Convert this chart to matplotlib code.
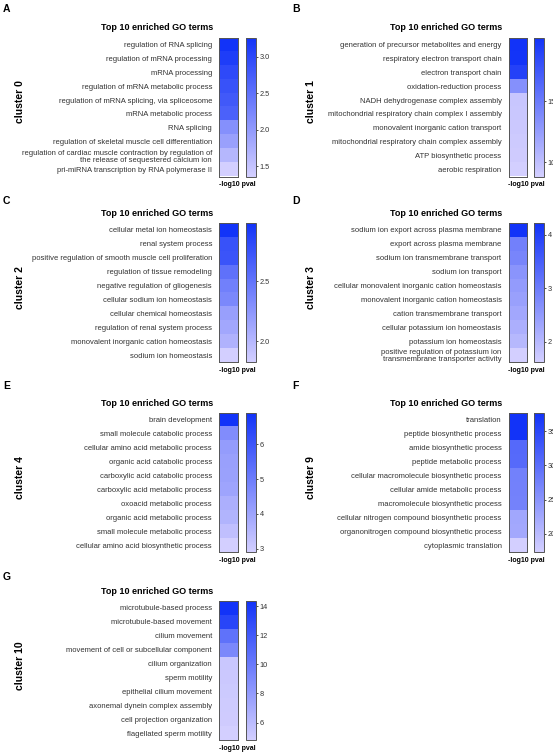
import matplotlib
matplotlib.use("Agg")
import matplotlib.pyplot as plt
import numpy as np
from matplotlib.colors import LinearSegmentedColormap

plt.rcParams['font.family'] = ['Liberation Sans', 'DejaVu Sans']

W, H = 553, 754

clusters = ["cluster 0", "cluster 1", "cluster 2", "cluster 3",
            "cluster 4", "cluster 9", "cluster 10"]
letters = ["A", "B", "C", "D", "E", "F", "G"]

terms_0 = ["regulation of RNA splicing", "regulation of mRNA processing", "mRNA processing",
           "regulation of mRNA metabolic process", "regulation of mRNA splicing, via spliceosome",
           "mRNA metabolic process", "RNA splicing",
           "regulation of skeletal muscle cell differentiation",
           "regulation of cardiac muscle contraction by regulation of\nthe release of sequestered calcium ion",
           "pri-miRNA transcription by RNA polymerase II"]
vals_0 = [3.26, 3.13, 2.98, 2.88, 2.79, 2.69, 2.12, 1.93, 1.65, 1.36]
ticks_0 = [1.5, 2.0, 2.5, 3.0]

terms_1 = ["generation of precursor metabolites and energy", "respiratory electron transport chain",
           "electron transport chain", "oxidation-reduction process",
           "NADH dehydrogenase complex assembly", "mitochondrial respiratory chain complex I assembly",
           "monovalent inorganic cation transport", "mitochondrial respiratory chain complex assembly",
           "ATP biosynthetic process", "aerobic respiration"]
vals_1 = [20.2, 20.1, 19.1, 13.4, 9.5, 9.4, 9.3, 9.2, 9.1, 8.85]
ticks_1 = [10, 15]

terms_2 = ["cellular metal ion homeostasis", "renal system process",
           "positive regulation of smooth muscle cell proliferation",
           "regulation of tissue remodeling", "negative regulation of gliogenesis",
           "cellular sodium ion homeostasis", "cellular chemical homeostasis",
           "regulation of renal system process", "monovalent inorganic cation homeostasis",
           "sodium ion homeostasis"]
vals_2 = [2.98, 2.75, 2.73, 2.52, 2.41, 2.35, 2.18, 2.12, 2.04, 1.83]
ticks_2 = [2.0, 2.5]

terms_3 = ["sodium ion export across plasma membrane", "export across plasma membrane",
           "sodium ion transmembrane transport", "sodium ion transport",
           "cellular monovalent inorganic cation homeostasis",
           "monovalent inorganic cation homeostasis", "cation transmembrane transport",
           "cellular potassium ion homeostasis", "potassium ion homeostasis",
           "positive regulation of potassium ion\ntransmembrane transporter activity"]
vals_3 = [4.22, 2.92, 2.84, 2.6, 2.48, 2.4, 2.27, 2.14, 2.0, 1.62]
ticks_3 = [2, 3, 4]

terms_4 = ["brain development", "small molecule catabolic process",
           "cellular amino acid metabolic process", "organic acid catabolic process",
           "carboxylic acid catabolic process", "carboxylic acid metabolic process",
           "oxoacid metabolic process", "organic acid metabolic process",
           "small molecule metabolic process", "cellular amino acid biosynthetic process"]
vals_4 = [6.9, 4.6, 4.2, 4.1, 4.08, 4.0, 3.7, 3.6, 3.3, 2.9]
ticks_4 = [3, 4, 5, 6]

terms_9 = ["translation", "peptide biosynthetic process", "amide biosynthetic process",
           "peptide metabolic process", "cellular macromolecule biosynthetic process",
           "cellular amide metabolic process", "macromolecule biosynthetic process",
           "cellular nitrogen compound biosynthetic process",
           "organonitrogen compound biosynthetic process", "cytoplasmic translation"]
vals_9 = [37.7, 37.6, 30.6, 30.5, 27.5, 27.4, 27.3, 22.5, 22.4, 17.3]
ticks_9 = [20, 25, 30, 35]

terms_10 = ["microtubule-based process", "microtubule-based movement", "cilium movement",
            "movement of cell or subcellular component", "cilium organization",
            "sperm motility", "epithelial cilium movement", "axonemal dynein complex assembly",
            "cell projection organization", "flagellated sperm motility"]
vals_10 = [14.35, 13.2, 10.5, 9.1, 5.3, 5.2, 5.1, 5.05, 5.0, 4.8]
ticks_10 = [6, 8, 10, 12, 14]

all_terms = [terms_0, terms_1, terms_2, terms_3, terms_4, terms_9, terms_10]
all_vals = [vals_0, vals_1, vals_2, vals_3, vals_4, vals_9, vals_10]
all_ticks = [ticks_0, ticks_1, ticks_2, ticks_3, ticks_4, ticks_9, ticks_10]
tick_fmt = ["%.1f", "%d", "%.1f", "%d", "%d", "%d", "%d"]

cmap = LinearSegmentedColormap.from_list("blu", ["#d3cfff", "#1233f8"])

fig = plt.figure(figsize=(W / 100, H / 100), dpi=100)


def px_axes(x0, y0, w, h):
    return fig.add_axes([x0 / W, 1 - (y0 + h) / H, w / W, h / H])


def fx(x):
    return x / W


def fy(y):
    return 1 - y / H


tops = [37.5, 37.5, 223, 223, 413, 413, 601]
hm_h = 139
edge = "#555555"

for i in range(7):
    right = i % 2 == 1
    hx = 508.5 if right else 219
    cx = 533.5 if right else 245.5
    top = tops[i]
    vals = np.array(all_vals[i])

    ax = px_axes(hx, top, 18.5, hm_h)
    im = ax.imshow(vals.reshape(-1, 1), cmap=cmap, aspect="auto",
                   vmin=vals.min(), vmax=vals.max())
    ax.set_xticks([])
    ax.set_yticks(range(10))
    ax.set_yticklabels(all_terms[i], fontsize=5.5, color="#333333", linespacing=1.0)
    ax.tick_params(axis="y", length=0, pad=5)
    for s in ax.spines.values():
        s.set_linewidth(0.7)
        s.set_color(edge)

    cax = px_axes(cx, top, 10, hm_h)
    cb = fig.colorbar(im, cax=cax)
    cb.set_ticks(all_ticks[i])
    cb.ax.set_yticklabels([tick_fmt[i] % t for t in all_ticks[i]])
    cb.ax.tick_params(labelsize=5.3, length=1.5, width=0.6, pad=1.5,
                      colors="#333333")
    cb.outline.set_linewidth(0.7)
    cb.outline.set_edgecolor(edge)

    fig.text(fx(hx - 6), fy(top - 9.5), "Top 10 enriched GO terms",
             ha="right", va="center", fontsize=6.5, fontweight="bold")
    fig.text(fx((hx + cx + 10) / 2), fy(top + hm_h + 8), "-log10 pval",
             ha="center", va="center", fontsize=5, fontweight="bold")
    lx = 311 if right else 20
    fig.text(fx(lx), fy(top + hm_h / 2 - 5), clusters[i], rotation=90,
             ha="center", va="center", fontsize=7.5, fontweight="bold")

letter_pos = [(3, 8.5), (292, 8.5), (3, 201.5), (292, 201.5),
              (3, 386), (292, 386), (3, 577)]
for L, (x, y) in zip(letters, letter_pos):
    fig.text(fx(x), fy(y), L, ha="left", va="center", fontsize=7.5,
             fontweight="bold")

fig.savefig("out.png", dpi=100)
